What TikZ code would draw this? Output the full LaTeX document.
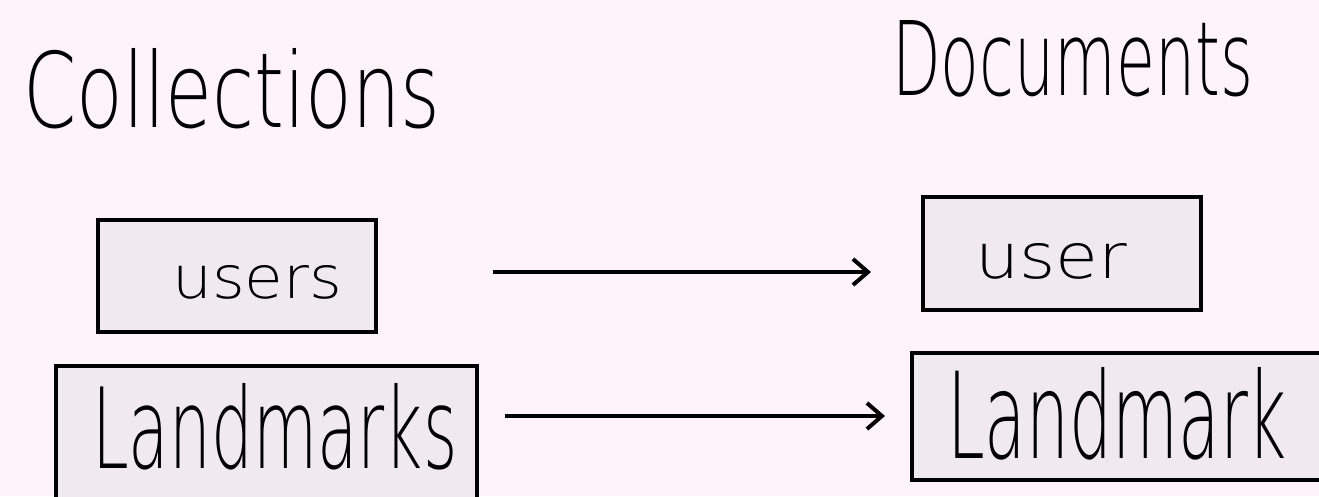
\documentclass[tikz,border=0pt]{standalone}
\usepackage{fontspec}
\usepackage{graphicx}
\usetikzlibrary{arrows.meta,calc}
\newfontfamily\hand{DejaVu Sans ExtraLight}
\definecolor{bgpink}{RGB}{253,243,249}
\definecolor{boxfill}{RGB}{240,233,238}
\tikzset{
  boxnode/.style={draw=black, line width=4pt, fill=boxfill, inner sep=0pt},
  txt/.style={anchor=base west, inner sep=0pt},
  arr/.style={line width=4pt, -{Straight Barb[length=15pt,width=26pt,line width=4pt]}}
}
\begin{document}
\begin{tikzpicture}[x=1pt,y=-1pt]
\useasboundingbox (0,0) rectangle (1319,496);
\clip (0,0) rectangle (1319,496);
\fill[bgpink] (0,0) rectangle (1319,496);
% boxes
\node[boxnode, minimum width=278pt, minimum height=112pt] (users) at (237,276) {};
\node[boxnode, minimum width=421pt, minimum height=140pt] (landmarks) at (266.5,436) {};
\node[boxnode, minimum width=278pt, minimum height=113pt] (user) at (1062,253.5) {};
\node[boxnode, minimum width=418pt, minimum height=127pt] (landmark) at (1121,416.5) {};
% headings
\node[txt] (coll) at (23,127) {\resizebox{417pt}{79pt}{\hand Collections}};
\node[txt] (docs) at (892,95) {\resizebox{361pt}{75pt}{\hand Documents}};
% box texts
\node[txt] (tusers) at (172,298) {\resizebox{170pt}{33pt}{\hand users}};
\node[txt] (tuser) at (975,278) {\resizebox{152pt}{35pt}{\hand user}};
\node[txt] (tlandmarks) at (92,468) {\resizebox{365pt}{85pt}{\hand Landmarks}};
\node[txt] (tlandmark) at (947,458) {\resizebox{340pt}{91pt}{\hand Landmark}};
% arrows
\draw[arr] ($(users.east)+(115,-4)$) -- ($(user.west)+(-50,18.5)$);
\draw[arr] ($(landmarks.east)+(26,-20)$) -- ($(landmark.west)+(-25,-0.5)$);
\end{tikzpicture}
\end{document}
